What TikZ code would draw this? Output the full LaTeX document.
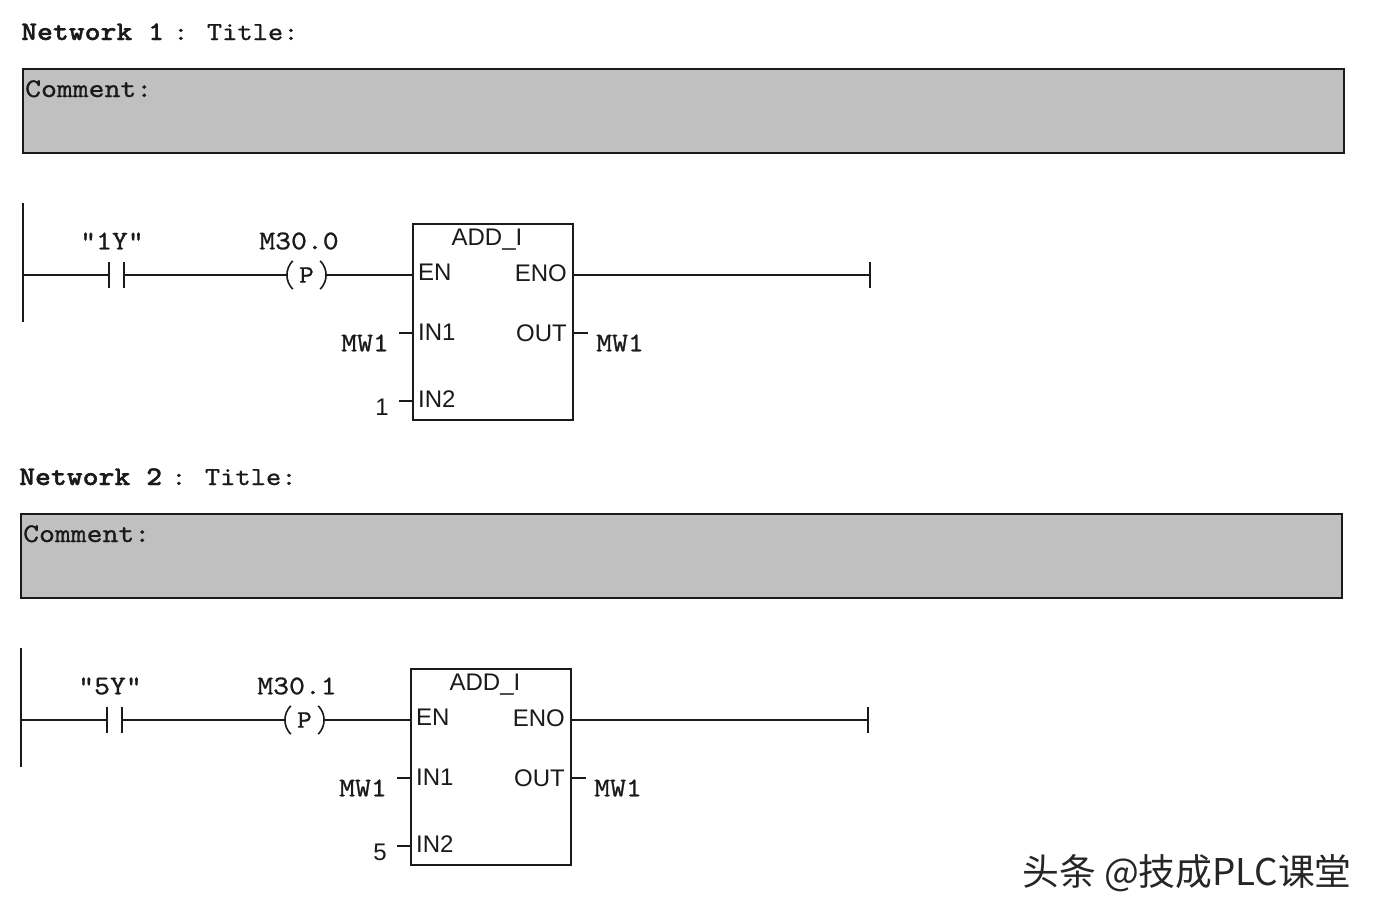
\documentclass[tikz,border=0pt]{standalone}
\usepackage{fontspec}
\newfontfamily\monof{lmmono10-regular.otf}[FakeStretch=1.12,FakeBold=0.8]
\newfontfamily\monob{lmmonolt10-bold.otf}[FakeStretch=1.12,FakeBold=1.2]
\newfontfamily\sansf{Liberation Sans}
\newfontfamily\cjkf{Noto Sans CJK SC}
\definecolor{ink}{HTML}{1A1A1A}
\definecolor{combg}{HTML}{C0C0C0}
\definecolor{wm}{HTML}{262626}
\tikzset{
  netlbl/.style={font=\monob\fontsize{27}{30}\selectfont, text=ink, inner sep=0pt, anchor=base west},
  ttllbl/.style={font=\monof\fontsize{26}{28}\selectfont, text=ink, inner sep=0pt, anchor=base west},
  comlbl/.style={font=\monof\fontsize{27}{30}\selectfont, text=ink, inner sep=0pt, anchor=base west},
  combox/.style={draw=ink, fill=combg, line width=2pt, minimum width=1321pt, minimum height=84pt, anchor=north west, inner sep=0pt},
  monolbl/.style={font=\monof\fontsize{27}{30}\selectfont, text=ink, inner sep=0pt},
  sanslbl/.style={font=\sansf\fontsize{24}{28}\selectfont, text=ink, inner sep=0pt},
  wire/.style={draw=ink, line width=2pt},
  fbbox/.style={draw=ink, line width=2pt, minimum width=160pt, minimum height=196pt, inner sep=0pt},
  contactbox/.style={minimum width=15pt, minimum height=26pt, inner sep=0pt},
  coilbox/.style={minimum width=37pt, minimum height=28pt, inner sep=0pt, font=\monof\fontsize{25}{28}\selectfont, text=ink},
}
\newcommand{\plcnet}[6]{%
\begin{scope}[shift={(#6)}]
  \node[netlbl] (#1net) at (21,40) {Network #2};
  \node[ttllbl] (#1ttl) at (173,40) {:\hspace{-2pt} Title:};
  \node[combox] (#1com) at (22,68) {};
  \node[comlbl] (#1comt) at (25,97) {Comment:};
  % left rail
  \coordinate (#1railtop) at (23,203);
  \coordinate (#1railbot) at (23,322);
  \draw[wire] (#1railtop) -- (#1railbot);
  \coordinate (#1r0) at (23,275);
  % contact
  \node[contactbox] (#1ct) at (116.5,275) {};
  \draw[wire] (#1ct.north west) -- (#1ct.south west);
  \draw[wire] (#1ct.north east) -- (#1ct.south east);
  \node[monolbl] (#1ctl) at (112,241) {#3};
  % P coil
  \node[coilbox] (#1coil) at (306.5,275) {P};
  \draw[wire, line width=1.6pt] ([xshift=5pt]#1coil.north west) to[bend right=45] ([xshift=5pt]#1coil.south west);
  \draw[wire, line width=1.6pt] ([xshift=-5pt]#1coil.north east) to[bend left=45] ([xshift=-5pt]#1coil.south east);
  \node[monolbl] (#1coill) at (299,241) {#4};
  % box
  \node[fbbox] (#1box) at (493,322) {};
  \node[sanslbl] (#1add) at (487,240) {ADD\_I};
  \node[sanslbl, anchor=west] (#1en) at (418,272) {EN};
  \node[sanslbl, anchor=east] (#1eno) at (567,273) {ENO};
  \node[sanslbl, anchor=west] (#1inA) at (418,332) {IN1};
  \node[sanslbl, anchor=east] (#1outl) at (567,333) {OUT};
  \node[sanslbl, anchor=west] (#1inB) at (418,399) {IN2};
  % rung wires
  \draw[wire] (#1r0) -- (#1ct.west);
  \draw[wire] (#1ct.east) -- (#1coil.west);
  \draw[wire] (#1coil.east) -- (#1coil.east -| #1box.west);
  \coordinate (#1end) at (870,275);
  \draw[wire] (#1box.east |- #1end) -- (#1end);
  \draw[wire] ([yshift=-13pt]#1end) -- ([yshift=13pt]#1end);
  % stubs
  \coordinate (#1in1) at (399,333);
  \coordinate (#1in2) at (399,401);
  \coordinate (#1out) at (588,333);
  \draw[wire] (#1in1) -- (#1in1 -| #1box.west);
  \draw[wire] (#1in2) -- (#1in2 -| #1box.west);
  \draw[wire] (#1box.east |- #1out) -- (#1out);
  \node[monolbl, anchor=east] (#1mwa) at (389,343) {MW1};
  \node[sanslbl] (#1val) at (382,407) {#5};
  \node[monolbl, anchor=west] (#1mwb) at (596,343) {MW1};
\end{scope}}
\begin{document}
\begin{tikzpicture}[x=1pt,y=-1pt]
  \fill[white] (0,0) rectangle (1378,918);
  \useasboundingbox (0,0) rectangle (1378,918);
  \plcnet{a}{1}{"1Y"}{M30.0}{1}{0,0}
  \plcnet{b}{2}{"5Y"}{M30.1}{5}{-2,445}
  \node[font=\cjkf\fontsize{36.8}{40}\selectfont, text=wm, anchor=west, inner sep=0pt] (wmark) at (1022,873) {头条 @技成PLC课堂};
\end{tikzpicture}
\end{document}
